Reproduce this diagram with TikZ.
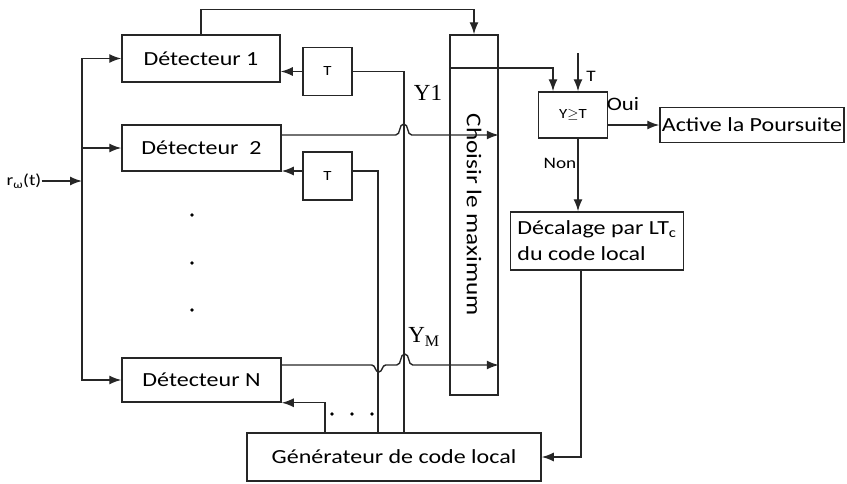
\documentclass[tikz,border=0pt]{standalone}
\usepackage{fontspec}
\setmainfont{Carlito}[FakeStretch=1.2]
\newfontfamily\serifY{Liberation Serif}
\usepackage{tikz}
\usetikzlibrary{arrows.meta, positioning, calc}

\begin{document}
\begin{tikzpicture}[x=1pt, y=-1pt, font=\fontsize{20}{23}\selectfont]
    \tikzstyle{box} = [rectangle, draw=black!85, line width=1.5pt, inner sep=2pt, text centered]
    \tikzstyle{tbox} = [box, minimum width=49pt, minimum height=48pt, font=\fontsize{14}{16}\selectfont]
    \tikzstyle{lbl} = [inner sep=0pt]
    \tikzstyle{arrow} = [line width=1.4pt, draw=black!85, ->, >={Latex[length=12pt,width=9pt]}]
    \tikzstyle{wire} = [line width=1.4pt, draw=black!85]

    \useasboundingbox (0,0) rectangle (847,483);

    % Components
    \node (det1) [box, minimum width=158pt, minimum height=47pt] at (201,58.5) {Détecteur 1};
    \node (det2) [box, minimum width=159pt, minimum height=46pt] at (201.5,148) {Détecteur\ \ 2};
    \node (detN) [box, minimum width=159pt, minimum height=44pt] at (201.5,380) {Détecteur N};
    \node (t1) [tbox] at (327.5,71.5) {T};
    \node (t2) [tbox] at (327.5,176) {T};
    \node (choix) [box, minimum width=360pt, minimum height=48pt, rotate=-90, font=\fontsize{21}{24}\selectfont] at (474,215) {Choisir\ le\ maximum};
    \node (cmp) [box, minimum width=69pt, minimum height=46pt, font=\fontsize{14}{16}\selectfont] at (573,115) {Y$\geq$T};
    \node (pours) [box, minimum width=184pt, minimum height=35pt, inner sep=1pt] at (752,125) {Active la Poursuite};
    \node (decal) [box, minimum width=173pt, minimum height=58pt, align=left, font=\fontsize{20}{26}\selectfont] at (597,241) {Décalage par LT\textsubscript{c}\\ du code local};
    \node (gen) [box, minimum width=294pt, minimum height=48pt] at (394,457) {Générateur de code local};

    % Labels
    \node (rin) [lbl, font=\fontsize{16}{18}\selectfont] at (24,181) {r\textsubscript{ω}(t)};
    \coordinate (busin) at (82,181);
    \coordinate (tin) at (578,53);
    \node (y1) [lbl, font=\serifY\fontsize{23}{25}\selectfont] at (428,93) {Y1};
    \node (ym) [lbl, font=\serifY\fontsize{23}{25}\selectfont] at (424,337) {Y\textsubscript{M}};
    \node (tlbl) [lbl, font=\fontsize{16}{18}\selectfont] at (591,76) {T};
    \node (oui) [lbl, font=\fontsize{19}{21}\selectfont] at (623,104) {Oui};
    \node (non) [lbl, font=\fontsize{16}{18}\selectfont] at (560,163) {Non};

    % Connections
    \draw [arrow] (rin) -- (busin);
    \draw [arrow] (busin) |- (det1);
    \draw [arrow] (busin |- det2) -- (det2);
    \draw [arrow] (busin) |- (detN);
    \draw [arrow] (det1.north) -- ++(0,-25) -| (choix.west);
    \draw [arrow] (t1.west) -- (t1.west -| det1.east);
    \draw [arrow] ([yshift=5pt]t2.west) -- ([yshift=5pt]t2.west -| det2.east);
    \draw [wire] (t1.east) -| ([xshift=10pt]gen.north);
    \draw [wire] ([yshift=5pt]t2.east) -| ([xshift=-16pt]gen.north);
    \draw [arrow] ([xshift=-69pt]gen.north) |- (detN.south east);
    \draw [arrow] ([yshift=13pt]det2.east) -- ++(114,0) to[out=0,in=180] ++(8,-11) to[out=0,in=180] ++(8,11) -- ([yshift=80pt]choix.north);
    \draw [arrow] ([yshift=15pt]detN.east) -- ++(90,0) to[out=0,in=180] ++(7,7) to[out=0,in=180] ++(7,-7) -- ++(11,0) to[out=0,in=180] ++(8,-11) to[out=0,in=180] ++(8,11) -- ([yshift=-150pt]choix.north);
    \draw [arrow] ([yshift=147pt]choix.south) -| ([xshift=-20pt]cmp.north);
    \draw [arrow] (tin) -- (tin |- cmp.north);
    \draw [arrow] ([yshift=-10pt]cmp.east) -- (pours.west);
    \draw [arrow] ([xshift=5pt]cmp.south) -- ([xshift=5pt]cmp.south |- decal.north);
    \draw [arrow] ([xshift=-16pt]decal.south) |- (gen.east);

    % dots
    \foreach \yy in {215,263,310} \fill (192,\yy) circle (1.8pt);
    \foreach \xx in {332,352,372} \fill (\xx,414) circle (1.8pt);
\end{tikzpicture}
\end{document}
